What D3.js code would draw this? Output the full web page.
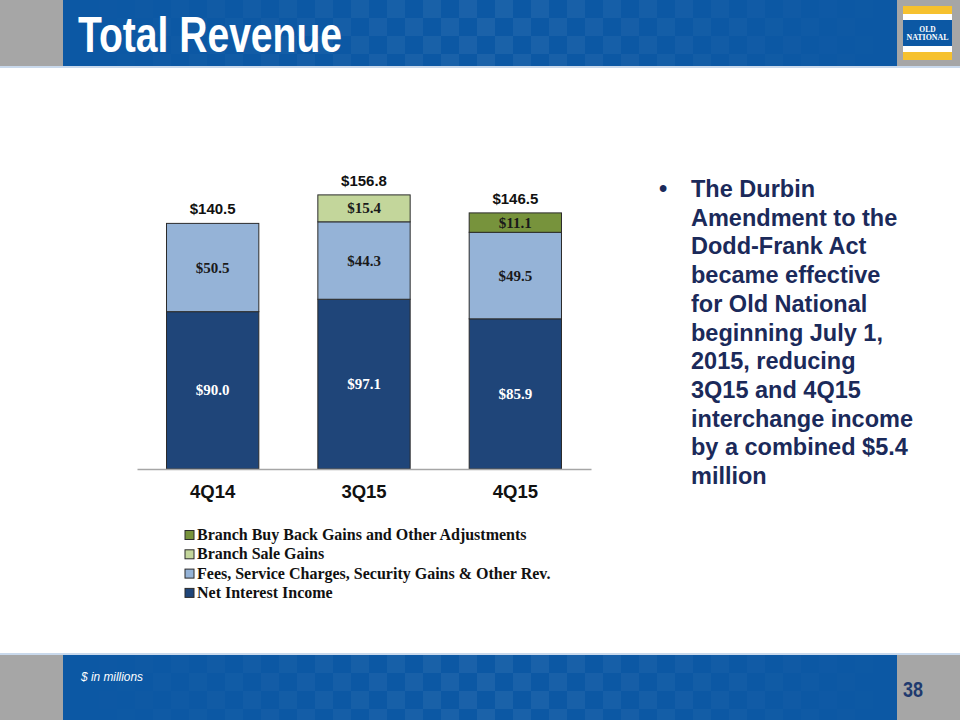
<!DOCTYPE html>
<html><head><meta charset="utf-8">
<script src="https://cdn.jsdelivr.net/npm/d3@7"></script>
<style>body{margin:0;background:#fff;}svg{display:block;}</style>
</head><body>
<svg id="c" width="960" height="720"></svg>
<script>
const categories = ["4Q14", "3Q15", "4Q15"];
const seriesNames = ["Net Interest Income", "Fees, Service Charges, Security Gains & Other Rev.", "Branch Sale Gains", "Branch Buy Back Gains and Other Adjustments"];
const netInterest = [90.0, 97.1, 85.9];
const fees = [50.5, 44.3, 49.5];
const branchSale = [0, 15.4, 0];
const buyBack = [0, 0, 11.1];
const totals = [140.5, 156.8, 146.5];
const bulletLines = ["The Durbin", "Amendment to the", "Dodd-Frank Act", "became effective", "for Old National", "beginning July 1,", "2015, reducing", "3Q15 and 4Q15", "interchange income", "by a combined $5.4", "million"];

const colors = ["#1F4579", "#95B3D7", "#C3D69B", "#77933C"];
const labelColors = ["#ffffff", "#1a1a1a", "#1a1a1a", "#1a1a1a"];
const seriesVals = [netInterest, fees, branchSale, buyBack];

const svg = d3.select("#c");

function band(y0, h) {
  svg.append("rect").attr("x", 0).attr("y", y0).attr("width", 960).attr("height", h).attr("fill", "#A6A6A6");
  svg.append("rect").attr("x", 63).attr("y", y0).attr("width", 834).attr("height", h).attr("fill", "#0C58A4");
  const g = svg.append("g").attr("opacity", 0.06);
  const cols = d3.range(0, 834, 18);
  cols.forEach((cx, i) => {
    d3.range(0, h, 18).forEach((cy, j) => {
      if ((i + j) % 2 === 0) {
        const dist = Math.abs(cx - 417) / 417;
        g.append("rect").attr("x", 63 + cx).attr("y", y0 + cy).attr("width", 18).attr("height", Math.min(18, h - cy))
          .attr("fill", "#ffffff").attr("opacity", 1 - dist);
      }
    });
  });
}
band(0, 66);
svg.append("rect").attr("x", 0).attr("y", 66).attr("width", 960).attr("height", 2).attr("fill", "#C9D9EC");
band(655, 65);
svg.append("rect").attr("x", 0).attr("y", 653).attr("width", 960).attr("height", 2).attr("fill", "#C9D9EC");

svg.append("text").attr("x", 78).attr("y", 52).attr("fill", "#fff")
  .attr("font-family", "'Liberation Sans', Arial, sans-serif").attr("font-weight", "bold")
  .attr("font-size", 50).attr("textLength", 264).attr("lengthAdjust", "spacingAndGlyphs").text("Total Revenue");

// logo
const lg = svg.append("g");
lg.append("rect").attr("x", 903).attr("y", 6).attr("width", 49).attr("height", 54).attr("fill", "#F6C12E");
lg.append("rect").attr("x", 903).attr("y", 14).attr("width", 49).attr("height", 6).attr("fill", "#fff");
lg.append("rect").attr("x", 903).attr("y", 46).attr("width", 49).attr("height", 6).attr("fill", "#fff");
lg.append("rect").attr("x", 903).attr("y", 20).attr("width", 49).attr("height", 26).attr("fill", "#0C58A4");
lg.append("text").attr("x", 927.5).attr("y", 31.5).attr("text-anchor", "middle").attr("fill", "#fff")
  .attr("font-family", "'Liberation Serif', serif").attr("font-weight", "bold").attr("font-size", 7.5).text("OLD");
lg.append("text").attr("x", 927.5).attr("y", 40).attr("text-anchor", "middle").attr("fill", "#fff")
  .attr("font-family", "'Liberation Serif', serif").attr("font-weight", "bold").attr("font-size", 7.5)
  .attr("textLength", 42).attr("lengthAdjust", "spacingAndGlyphs").text("NATIONAL");

// footer texts
svg.append("text").attr("x", 81).attr("y", 681).attr("fill", "#fff").attr("font-style", "italic")
  .attr("font-family", "'Liberation Sans', Arial, sans-serif").attr("font-size", 13)
  .attr("textLength", 62).attr("lengthAdjust", "spacingAndGlyphs").text("$ in millions");
svg.append("text").attr("x", 903).attr("y", 697).attr("fill", "#1F3A6E").attr("font-weight", "bold")
  .attr("font-family", "'Liberation Sans', Arial, sans-serif").attr("font-size", 22)
  .attr("textLength", 20).attr("lengthAdjust", "spacingAndGlyphs").text("38");

// chart
const x = d3.scaleBand().domain(categories).range([137, 591]).paddingInner(0.39).paddingOuter(0.195);
const y = d3.scaleLinear().domain([0, 160]).range([469, 189.3]);

const stackData = categories.map((c, i) => {
  const o = { cat: c };
  seriesVals.forEach((s, k) => o["s" + k] = s[i]);
  return o;
});
const stack = d3.stack().keys(["s0", "s1", "s2", "s3"])(stackData);

stack.forEach((layer, k) => {
  const g = svg.append("g");
  layer.forEach((d, i) => {
    if (d[1] - d[0] <= 0) return;
    g.append("rect").attr("x", x(categories[i])).attr("y", y(d[1]))
      .attr("width", x.bandwidth()).attr("height", y(d[0]) - y(d[1]))
      .attr("fill", colors[k]).attr("stroke", "#2b2b2b").attr("stroke-width", 1);
    g.append("text").attr("x", x(categories[i]) + x.bandwidth() / 2).attr("y", (y(d[0]) + y(d[1])) / 2 + 5)
      .attr("text-anchor", "middle").attr("fill", labelColors[k])
      .attr("font-family", "'Liberation Serif', 'Times New Roman', serif").attr("font-weight", "bold").attr("font-size", 15)
      .text("$" + (d[1] - d[0]).toFixed(1));
  });
});

categories.forEach((c, i) => {
  svg.append("text").attr("x", x(c) + x.bandwidth() / 2).attr("y", y(totals[i]) - 9)
    .attr("text-anchor", "middle").attr("fill", "#111")
    .attr("font-family", "'Liberation Sans', Arial, sans-serif").attr("font-weight", "bold").attr("font-size", 15)
    .text("$" + totals[i].toFixed(1));
});

const ax = svg.append("g").attr("transform", "translate(0,469)").call(d3.axisBottom(x).tickSize(0).tickPadding(16));
ax.select(".domain").attr("stroke", "#A6A6A6").attr("stroke-width", 1.5);
ax.selectAll("text").attr("font-family", "'Liberation Sans', Arial, sans-serif").attr("font-weight", "bold")
  .attr("font-size", 18.5).attr("fill", "#111");

const legendOrder = [3, 2, 1, 0];
legendOrder.forEach((k, r) => {
  const cy = 535 + r * 19.3;
  svg.append("rect").attr("x", 185).attr("y", cy - 4.5).attr("width", 9).attr("height", 9)
    .attr("fill", colors[k]).attr("stroke", "#2b2b2b").attr("stroke-width", 1);
  svg.append("text").attr("x", 197).attr("y", cy + 5).attr("fill", "#111")
    .attr("font-family", "'Liberation Serif', 'Times New Roman', serif").attr("font-weight", "bold").attr("font-size", 16)
    .text(seriesNames[k]);
});

svg.append("text").attr("x", 659).attr("y", 197).attr("fill", "#1B2A5A").attr("font-family", "'Liberation Sans', Arial, sans-serif")
  .attr("font-weight", "bold").attr("font-size", 23.5).text("•");
bulletLines.forEach((t, i) => {
  svg.append("text").attr("x", 691).attr("y", 197 + i * 28.7).attr("fill", "#1B2A5A")
    .attr("font-family", "'Liberation Sans', Arial, sans-serif").attr("font-weight", "bold").attr("font-size", 23.5).text(t);
});
</script>
</body></html>
